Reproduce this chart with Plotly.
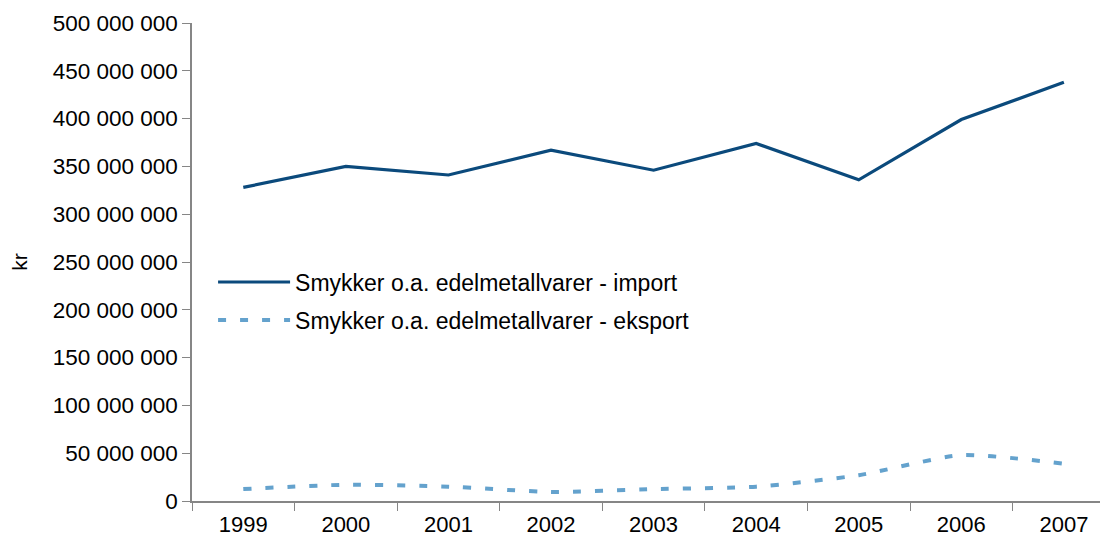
import plotly.graph_objects as go

years = ["1999", "2000", "2001", "2002", "2003", "2004", "2005", "2006", "2007"]
import_values = [328e6, 350e6, 341e6, 367e6, 346e6, 374e6, 336e6, 399e6, 438e6]
export_values = [12.5e6, 17e6, 15e6, 9.5e6, 12.5e6, 15e6, 27e6, 48e6, 39e6]
import_name = "Smykker o.a. edelmetallvarer - import"
export_name = "Smykker o.a. edelmetallvarer - eksport"

FONT = "Liberation Sans, Arial, sans-serif"

fig = go.Figure()
fig.add_trace(go.Scatter(
    x=years, y=import_values, name=import_name, mode="lines",
    line=dict(color="#0b4a7c", width=3.2), legendgroup="a",
))
fig.add_trace(go.Scatter(
    x=years, y=export_values, name=export_name, mode="lines",
    line=dict(color="#64a2cd", width=4, dash="8px,14px", shape="spline", smoothing=0.6),
    legendgroup="b",
))

fig.update_layout(
    width=1100, height=537,
    margin=dict(l=184, r=0, t=15, b=44, autoexpand=False),
    paper_bgcolor="white", plot_bgcolor="white",
    font=dict(family=FONT, size=22, color="black"),
    separators=", ",
    showlegend=True,
    legend=dict(
        x=0.023, y=0.503, xanchor="left", yanchor="top",
        bgcolor="rgba(0,0,0,0)", font=dict(size=23),
        tracegroupgap=5, itemwidth=72,
    ),
    xaxis=dict(
        type="category", range=[-0.5, 8.43],
        showline=True, linecolor="#868686", linewidth=1.5,
        ticks="outside", tickson="boundaries", ticklen=8, tickcolor="#868686",
        tickfont=dict(size=22), showgrid=False, zeroline=False,
        ticklabelstandoff=3,
    ),
    yaxis=dict(
        range=[0, 500e6], dtick=50e6, tickformat=",d",
        showline=True, linecolor="#868686", linewidth=1.5,
        ticks="outside", ticklen=8, tickcolor="#868686",
        tickfont=dict(size=22.5), showgrid=False, zeroline=False,
        title=dict(text="kr", font=dict(size=21), standoff=22),
    ),
)

fig.write_html("out.html")
